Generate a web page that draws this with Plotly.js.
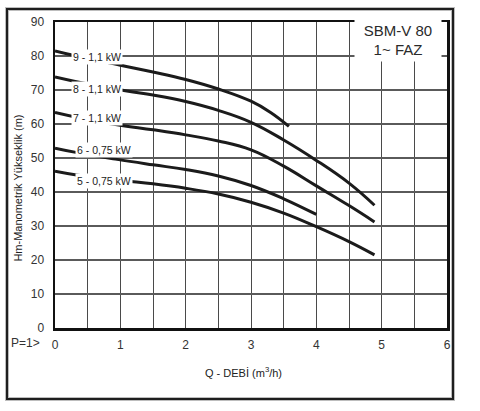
<!DOCTYPE html>
<html>
<head>
<meta charset="utf-8">
<script src="https://cdn.plot.ly/plotly-3.0.1.min.js"></script>
<style>
  html, body { margin: 0; padding: 0; background: #fff; }
  #chart { width: 480px; height: 411px; }
</style>
</head>
<body>
<div id="chart"></div>
<script>
// pump curves, SBM-V 80 single phase
var q9 = [0, 0.33, 1.0, 1.5, 2.0, 2.5, 3.0, 3.3, 3.58];
var h9 = [81.5, 80.0, 77.3, 75.3, 73.1, 70.3, 66.7, 63.4, 59.3];

var q8 = [0, 0.31, 1.1, 1.5, 2.0, 2.5, 3.0, 3.5, 4.0, 4.5, 4.89];
var h8 = [73.8, 72.5, 69.7, 68.5, 66.6, 64.0, 60.5, 55.3, 49.3, 42.6, 36.1];

var q7 = [0, 0.33, 0.95, 1.5, 2.0, 2.5, 3.0, 3.5, 4.0, 4.5, 4.89];
var h7 = [63.4, 62.0, 59.8, 58.3, 56.8, 55.0, 52.4, 47.6, 41.8, 36.0, 31.2];

var q6 = [0, 0.36, 0.95, 1.5, 2.0, 2.5, 3.0, 3.5, 4.0];
var h6 = [52.9, 51.5, 49.6, 48.0, 46.6, 44.7, 41.9, 38.0, 33.4];

var q5 = [0, 0.33, 1.0, 1.5, 2.0, 2.5, 3.0, 3.5, 4.0, 4.5, 4.89];
var h5 = [46.1, 45.0, 43.4, 42.4, 41.1, 39.4, 37.0, 33.8, 29.8, 25.4, 21.5];

var curveNames = ['9 - 1,1 kW', '8 - 1,1 kW', '7 - 1,1 kW', '6 - 0,75 kW', '5 - 0,75 kW'];
var labelQ = [0.65, 0.64, 0.65, 0.75, 0.75];
var labelH = [79.6, 70.3, 61.8, 52.4, 43.2];

var xTicks = [0, 1, 2, 3, 4, 5, 6];
var yTicks = [0, 10, 20, 30, 40, 50, 60, 70, 80, 90];

var font = 'Liberation Sans, Arial, sans-serif';
var ink = '#1b1b1b';

var qs = [q9, q8, q7, q6, q5];
var hs = [h9, h8, h7, h6, h5];

var data = [];
for (var i = 0; i < qs.length; i++) {
  data.push({
    x: qs[i],
    y: hs[i],
    name: curveNames[i],
    mode: 'lines',
    type: 'scatter',
    line: {color: ink, width: 3, shape: 'spline', smoothing: 1.2},
    hoverinfo: 'skip'
  });
}

var annotations = [];
for (var j = 0; j < curveNames.length; j++) {
  annotations.push({
    x: labelQ[j], y: labelH[j], xref: 'x', yref: 'y',
    xanchor: 'center', yanchor: 'middle',
    text: curveNames[j], showarrow: false,
    bgcolor: '#ffffff', borderpad: 1,
    font: {family: font, size: 10.5, color: '#222'}
  });
}
// model box top right
annotations.push({
  x: 5.25, y: 84.6, xref: 'x', yref: 'y',
  xanchor: 'center', yanchor: 'middle',
  text: 'SBM-V 80<br>1~ FAZ', showarrow: false,
  bgcolor: '#ffffff', width: 86, height: 42, borderpad: 0,
  font: {family: font, size: 15, color: '#2a2a2a'}
});
// axis titles
annotations.push({
  x: -0.094, y: 0.456, xref: 'paper', yref: 'paper',
  xanchor: 'center', yanchor: 'middle',
  text: 'Hm-Manometrik Yükseklik (m)', textangle: -90, showarrow: false,
  font: {family: font, size: 11, color: '#222'}
});
annotations.push({
  x: 0.482, y: -0.144, xref: 'paper', yref: 'paper',
  xanchor: 'center', yanchor: 'middle',
  text: 'Q - DEBİ (m<sup>3</sup>/h)', showarrow: false,
  font: {family: font, size: 11, color: '#222'}
});
annotations.push({
  x: -0.074, y: -0.049, xref: 'paper', yref: 'paper',
  xanchor: 'center', yanchor: 'middle',
  text: 'P=1>', showarrow: false,
  font: {family: font, size: 12, color: '#333'}
});

var layout = {
  width: 480,
  height: 411,
  margin: {l: 55, r: 33, t: 22, b: 83, pad: 0},
  paper_bgcolor: '#ffffff',
  plot_bgcolor: '#ffffff',
  showlegend: false,
  xaxis: {
    range: [0, 6],
    tickvals: xTicks,
    ticks: '',
    ticklabelstandoff: 4,
    showgrid: true,
    gridcolor: '#4a4a4a',
    gridwidth: 1,
    minor: {dtick: 0.5, showgrid: true, gridcolor: '#4a4a4a', gridwidth: 1},
    zeroline: false,
    showline: true,
    linecolor: '#111',
    linewidth: 2.5,
    mirror: true,
    tickfont: {family: font, size: 12, color: '#333'},
    fixedrange: true
  },
  yaxis: {
    range: [0, 90],
    tickvals: yTicks,
    ticks: '',
    ticklabelstandoff: 6,
    showgrid: true,
    gridcolor: '#5a5a5a',
    gridwidth: 1.2,
    zeroline: false,
    showline: true,
    linecolor: '#111',
    linewidth: 2.5,
    mirror: true,
    tickfont: {family: font, size: 12, color: '#333'},
    fixedrange: true
  },
  annotations: annotations,
  shapes: [
    // outer frame with soft shadow
    {type: 'rect', xref: 'paper', yref: 'paper', layer: 'below',
     x0: -0.1224, x1: 1.0153, y0: -0.232, y1: 1.0425,
     line: {color: '#bdbdbd', width: 4}},
    {type: 'rect', xref: 'paper', yref: 'paper', layer: 'below',
     x0: -0.1224, x1: 1.0153, y0: -0.232, y1: 1.0425,
     line: {color: '#1e1e1e', width: 2}}
  ]
};

Plotly.newPlot('chart', data, layout, {displayModeBar: false, staticPlot: true});
</script>
</body>
</html>
